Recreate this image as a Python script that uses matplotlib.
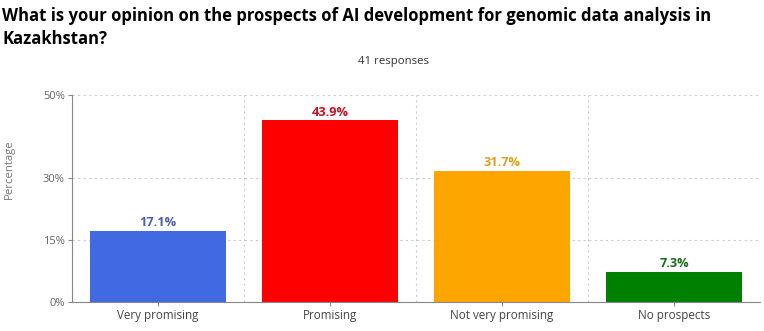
import matplotlib.pyplot as plt

plt.rcParams['font.family'] = ['Open Sans', 'DejaVu Sans']

categories = ['Very promising', 'Promising', 'Not very promising', 'No prospects']
values = [17.1, 43.9, 31.7, 7.3]
bar_colors = ['#4169e1', '#ff0000', '#ffa500', '#008000']
label_colors = ['#4a5fb0', '#c8101e', '#d9a020', '#1a6b1a']
yticks = [0, 15, 30, 50]

fig = plt.figure(figsize=(7.64, 3.31), dpi=100)
ax = fig.add_axes([0.094, 0.088, 0.901, 0.625])

x = range(len(categories))
ax.bar(x, values, width=0.79, color=bar_colors, zorder=2)
for i, v in enumerate(values):
    ax.text(i, v + 0.4, f'{v}%', ha='center', va='bottom', fontsize=9.2,
            fontweight='bold', color=label_colors[i])

ax.set_xlim(-0.5, 3.5)
ax.set_ylim(0, 50)
ax.set_xticks(list(x))
ax.set_xticklabels(categories, fontsize=8.4, color='#444444')
ax.set_yticks(yticks)
ax.set_yticklabels([f'{t}%' for t in yticks], fontsize=8, color='#666666')
ax.set_xticks([0.5, 1.5, 2.5, 3.5], minor=True)
ax.tick_params(axis='x', which='minor', length=0)
ax.tick_params(axis='both', which='major', length=3, color='#888888', pad=2)
ax.grid(axis='y', which='major', linestyle=(0, (2, 3)), color='#cccccc', linewidth=0.8, zorder=0)
ax.grid(axis='x', which='minor', linestyle=(0, (2, 3)), color='#cccccc', linewidth=0.8, zorder=0)
ax.set_ylabel('Percentage', fontsize=8.2, color='#777777')
ax.yaxis.set_label_coords(-0.082, 0.64)
for s in ['top', 'right']:
    ax.spines[s].set_visible(False)
for s in ['left', 'bottom']:
    ax.spines[s].set_color('#888888')

fig.text(0.003, 0.952, 'What is your opinion on the prospects of AI development for genomic data analysis in',
         fontsize=12, fontweight='bold', ha='left', va='center')
fig.text(0.003, 0.882, 'Kazakhstan?', fontsize=12, fontweight='bold', ha='left', va='center')
fig.text(0.515, 0.815, '41 responses', fontsize=8.2, ha='center', va='center', color='#333333')

fig.savefig('out.png', dpi=100)
